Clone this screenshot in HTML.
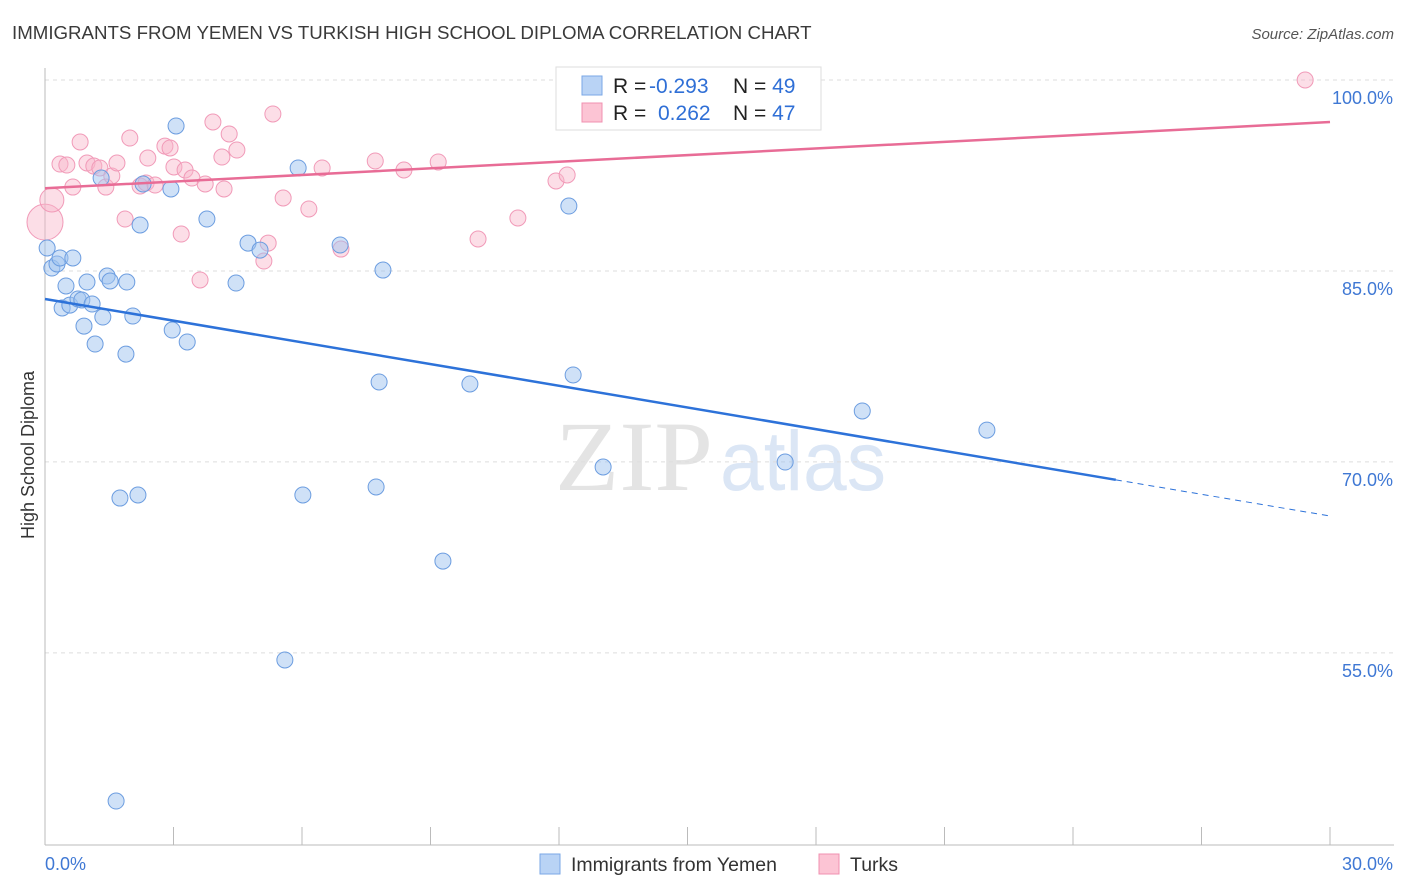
<!DOCTYPE html>
<html><head><meta charset="utf-8"><style>
body{margin:0;background:#fff;font-family:"Liberation Sans",sans-serif;}
svg{display:block}
</style></head><body>
<svg id="c" width="1406" height="892" xmlns="http://www.w3.org/2000/svg">
<text x="12" y="39" font-size="18.7" fill="#3a3a3a">IMMIGRANTS FROM YEMEN VS TURKISH HIGH SCHOOL DIPLOMA CORRELATION CHART</text>
<text x="1394" y="39" font-size="15" fill="#555" font-style="italic" text-anchor="end">Source: ZipAtlas.com</text>
<text x="555" y="490" font-size="100" fill="#e4e4e4" textLength="158" lengthAdjust="spacingAndGlyphs" font-family="Liberation Serif,serif">ZIP</text>
<text x="720" y="490" font-size="84" fill="#dbe6f5" textLength="166" lengthAdjust="spacingAndGlyphs">atlas</text>
<text transform="translate(34,455) rotate(-90)" font-size="18" fill="#333" text-anchor="middle">High School Diploma</text>
<g id="grid"></g><g id="marks"></g>
<g>
<rect x="556" y="67" width="265" height="63" fill="#fff" stroke="#ddd"/>
<rect x="582" y="76" width="20" height="19" fill="#b9d3f5" stroke="#7aa7e6"/>
<rect x="582" y="103" width="20" height="19" fill="#fcc4d4" stroke="#f090b0"/>
<text x="613" y="93" font-size="21" fill="#222">R = <tspan x="649" fill="#2f6fd6">-0.293</tspan><tspan x="733">N = </tspan><tspan fill="#2f6fd6">49</tspan></text>
<text x="613" y="120" font-size="21" fill="#222">R = <tspan x="658" fill="#2f6fd6">0.262</tspan><tspan x="733">N = </tspan><tspan fill="#2f6fd6">47</tspan></text>
</g>
<g>
<rect x="540" y="854" width="20" height="20" fill="#b9d3f5" stroke="#7aa7e6"/>
<text x="571" y="871" font-size="19.5" fill="#333">Immigrants from Yemen</text>
<rect x="819" y="854" width="20" height="20" fill="#fcc4d4" stroke="#f090b0"/>
<text x="850" y="871" font-size="19.5" fill="#333">Turks</text>
</g>
</svg>
<script>
const yemenX=[0.05,0.16,0.28,0.35,0.65,0.49,0.40,0.58,0.77,0.86,0.98,1.10,0.91,1.17,1.35,1.31,1.45,1.52,1.91,1.89,2.05,2.22,2.29,2.97,2.94,3.06,3.32,3.78,4.46,4.74,5.02,5.91,6.89,7.89,7.80,9.92,12.23,12.33,13.03,17.28,19.08,21.99,1.75,2.17,6.02,7.73,9.29,5.60,1.66];
const yemenY=[86.80,85.23,85.55,86.02,86.02,83.82,82.09,82.32,82.80,82.72,84.13,82.40,80.67,79.26,81.38,92.30,84.60,84.21,84.13,78.47,81.46,88.61,91.83,80.36,91.44,96.39,79.42,89.08,84.05,87.19,86.64,93.09,87.04,85.07,76.28,76.12,90.10,76.83,69.60,69.99,74.00,72.50,67.16,67.40,67.40,68.03,62.21,54.44,43.36];
const turksX=[0,0.16,0.35,0.51,0.82,0.65,0.98,1.14,1.28,1.42,1.56,1.68,1.87,1.98,2.40,2.22,2.36,2.57,2.80,2.92,3.01,3.18,3.27,3.43,3.62,3.74,3.92,4.13,4.18,4.30,4.48,5.11,5.21,5.32,5.56,6.16,6.47,6.91,7.71,8.38,9.18,10.11,11.04,11.93,12.19,12.31,29.42];
const turksY=[88.84,90.57,93.40,93.32,95.13,91.59,93.48,93.24,93.09,91.59,92.46,93.48,89.08,95.44,93.87,91.67,91.91,91.75,94.81,94.66,93.17,87.90,92.93,92.30,84.29,91.83,96.70,93.95,91.44,95.76,94.50,85.78,87.19,97.33,90.73,89.87,93.09,86.72,93.64,92.93,93.56,87.51,89.16,92.07,92.54,100,100];
const yTicks=[100,85,70,55];
const xTickLabels=["0.0%","30.0%"];
const yemenTrend=[82.8,65.75];
const turksTrend=[91.5,96.7];
const sx=v=>45+v/30*1285, sy=v=>80+(100-v)*12.73;
const NS="http://www.w3.org/2000/svg";
function mk(p,t,a){const e=document.createElementNS(NS,t);for(const k in a)e.setAttribute(k,a[k]);p.appendChild(e);return e;}
const g=document.getElementById('grid'),m=document.getElementById('marks');
yTicks.forEach(v=>{
 const l=mk(g,'line',{x1:45,x2:1394,y1:sy(v),y2:sy(v),stroke:'#ddd','stroke-dasharray':'4,4'});
 
 
 const t=mk(g,'text',{x:1393,y:sy(v)+24,'font-size':18,fill:'#3f78d4','text-anchor':'end'});t.textContent=v.toFixed(1)+'%';
 
 
});
mk(g,'line',{x1:45,x2:45,y1:68,y2:845,stroke:'#bbb'});
mk(g,'line',{x1:45,x2:1394,y1:845,y2:845,stroke:'#bbb'});
for(let i=0;i<=10;i++){mk(g,'line',{x1:sx(i*3),x2:sx(i*3),y1:827,y2:845,stroke:'#bbb'});}
xTickLabels.forEach((s,i)=>{const t=mk(g,'text',{x:i?1393:45,y:870,'font-size':18,fill:'#3f78d4','text-anchor':i?'end':'start'});t.textContent=s;
 
 });
turksX.forEach((x,i)=>{const r=i==0?18:i==1?12:8;
 const c=mk(m,'circle',{cx:sx(x),cy:sy(turksY[i]),r:r,fill:'rgba(248,182,202,0.45)',stroke:'#f19ab8','stroke-width':1});
 
 });
yemenX.forEach((x,i)=>{
 const c=mk(m,'circle',{cx:sx(x),cy:sy(yemenY[i]),r:8,fill:'rgba(160,196,240,0.5)',stroke:'#6c9de0','stroke-width':1});
 
 });
const yAt=(tr,x)=>tr[0]+(tr[1]-tr[0])*x/30;
let l=mk(m,'line',{x1:sx(0),y1:sy(turksTrend[0]),x2:sx(30),y2:sy(turksTrend[1]),stroke:'#e86c96','stroke-width':2.5});


l=mk(m,'line',{x1:sx(0),y1:sy(yemenTrend[0]),x2:sx(25),y2:sy(yAt(yemenTrend,25)),stroke:'#2d72d9','stroke-width':2.5});


l=mk(m,'line',{x1:sx(25),y1:sy(yAt(yemenTrend,25)),x2:sx(30),y2:sy(yemenTrend[1]),stroke:'#2d72d9','stroke-width':1,'stroke-dasharray':'6,5'});


</script>
</body></html>
